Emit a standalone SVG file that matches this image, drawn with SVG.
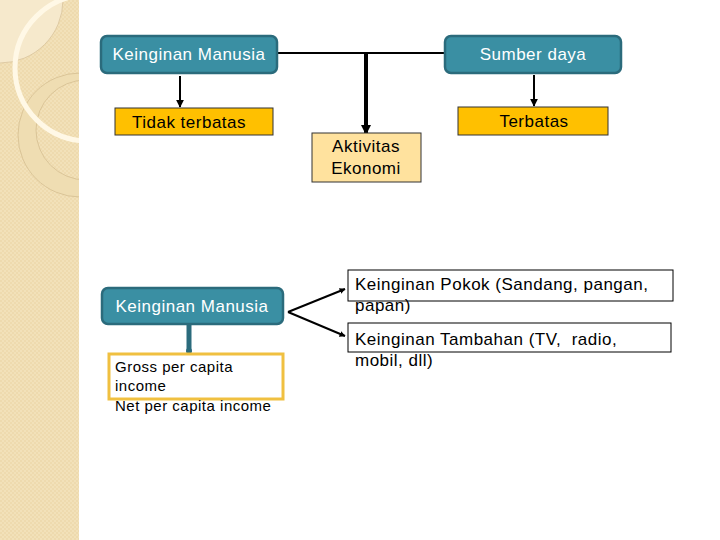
<svg xmlns="http://www.w3.org/2000/svg" width="720" height="540" viewBox="0 0 720 540">
<defs>
<style>
.t{font-family:"Liberation Sans",Arial,sans-serif;font-size:17px;letter-spacing:0.5px;fill:#000}
.w{fill:#fff}
.s{font-size:15px}
.teal{fill:#3A8FA3;stroke:#2B6B7C;stroke-width:2.5}
.gold{fill:#FFC000;stroke:#333;stroke-width:1}
.cn{stroke:#000;fill:none}
</style>
<pattern id="chk" width="4" height="4" patternUnits="userSpaceOnUse">
<rect width="4" height="4" fill="#F2E1B9"/>
<rect width="2" height="2" fill="#EEDAAE"/>
<rect x="2" y="2" width="2" height="2" fill="#EEDAAE"/>
</pattern>
<clipPath id="side"><rect width="79" height="540"/></clipPath>
<marker id="ah" viewBox="0 0 10 10" refX="9" refY="5" markerWidth="4" markerHeight="4" orient="auto"><path d="M0,0L10,5L0,10z" fill="#000"/></marker>
<marker id="ahk" viewBox="0 0 10 10" refX="9" refY="5" markerWidth="2.6" markerHeight="2.6" orient="auto"><path d="M0,0L10,5L0,10z" fill="#000"/></marker>
<marker id="ah2" viewBox="0 0 10 10" refX="9" refY="5" markerWidth="3" markerHeight="3" orient="auto"><path d="M0,0L10,5L0,10z" fill="#000"/></marker>
</defs>
<rect width="720" height="540" fill="#fff"/>
<g id="sidebar" clip-path="url(#side)">
<rect width="79" height="540" fill="url(#chk)"/>
<circle cx="0" cy="0" r="63" fill="#F6E9CC" stroke="#D8C39A" stroke-width="0.8"/>
<circle cx="80" cy="135" r="62" fill="#EFDDB2" stroke="#D4BE90" stroke-width="0.8"/>
<circle cx="86" cy="130" r="50" fill="url(#chk)" stroke="#D4BE90" stroke-width="0.8"/>
<circle cx="88" cy="68" r="73" fill="none" stroke="#FFF8E6" stroke-width="5"/>
</g>
<g id="connectors">
<line class="cn" x1="277" y1="53" x2="445" y2="53" stroke-width="2"/>
<line class="cn" x1="366" y1="53" x2="366" y2="134" stroke-width="4" marker-end="url(#ahk)"/>
<line class="cn" x1="180" y1="76" x2="180" y2="107" stroke-width="2" marker-end="url(#ah)"/>
<line class="cn" x1="534" y1="75" x2="534" y2="106" stroke-width="2" marker-end="url(#ah)"/>
<line x1="189" y1="324" x2="189" y2="350" stroke="#2B6B7C" stroke-width="5"/>
<circle cx="189" cy="351" r="3" fill="#2B6B7C"/>
<line class="cn" x1="288" y1="312" x2="345" y2="289" stroke-width="2" marker-end="url(#ah2)"/>
<line class="cn" x1="288" y1="312" x2="345" y2="336" stroke-width="2" marker-end="url(#ah2)"/>
</g>
<g id="n-keinginan-top">
<rect class="teal" x="101" y="36" width="176" height="37" rx="6"/>
<text class="t w" x="189" y="60" text-anchor="middle">Keinginan Manusia</text>
</g>
<g id="n-sumber">
<rect class="teal" x="445" y="36" width="176" height="37" rx="6"/>
<text class="t w" x="533" y="60" text-anchor="middle">Sumber daya</text>
</g>
<g id="n-tidak">
<rect class="gold" x="115" y="108" width="158" height="27"/>
<text class="t" x="189" y="128" text-anchor="middle">Tidak terbatas</text>
</g>
<g id="n-terbatas">
<rect class="gold" x="458" y="107" width="150" height="28"/>
<text class="t" x="534" y="127" text-anchor="middle">Terbatas</text>
</g>
<g id="n-aktivitas">
<rect x="312" y="133" width="109" height="49" fill="#FFE29E" stroke="#333" stroke-width="1"/>
<text class="t" x="366" y="152" text-anchor="middle">Aktivitas</text>
<text class="t" x="366" y="174" text-anchor="middle">Ekonomi</text>
</g>
<g id="n-keinginan-low">
<rect class="teal" x="102" y="288" width="181" height="36" rx="6"/>
<text class="t w" x="192" y="312" text-anchor="middle">Keinginan Manusia</text>
</g>
<g id="n-gross">
<rect x="109" y="354" width="174" height="45" fill="#fff" stroke="#F0C040" stroke-width="3"/>
<text class="t s" x="115" y="372">Gross per capita</text>
<text class="t s" x="115" y="391">income</text>
<text class="t s" x="115" y="411">Net per capita income</text>
</g>
<g id="n-pokok">
<rect x="348" y="270" width="325" height="31" fill="#fff" stroke="#000" stroke-width="1"/>
<text class="t" x="355" y="290">Keinginan Pokok (Sandang, pangan,</text>
<text class="t" x="355" y="311">papan)</text>
</g>
<g id="n-tambahan">
<rect x="348" y="323" width="323" height="29" fill="none" stroke="#000" stroke-width="1"/>
<text class="t" x="355" y="345" xml:space="preserve">Keinginan Tambahan (TV,  radio,</text>
<text class="t" x="355" y="366">mobil, dll)</text>
</g>
</svg>
